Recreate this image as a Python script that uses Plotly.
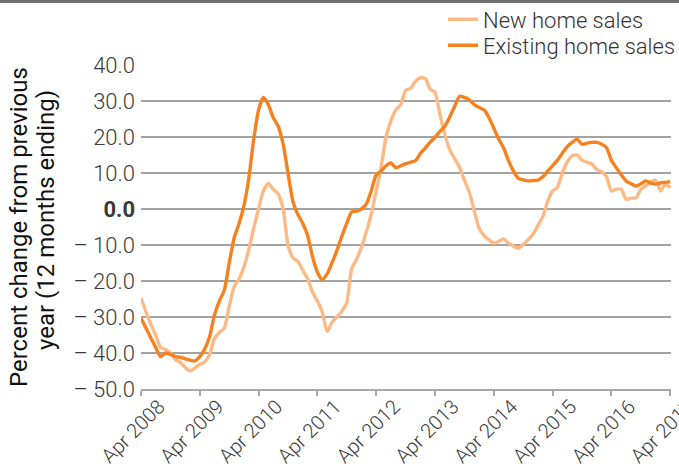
import pandas as pd
import plotly.graph_objects as go

# monthly, Apr 2008 .. Apr 2017
months = pd.date_range("2008-04-01", "2017-04-01", freq="MS")

new_home_sales = [
    -24.7, -28.5, -32, -35, -38.5, -39, -40, -41.8, -42.6, -44, -45, -44.2,
    -43.2, -42.5, -40.5, -36, -34.3, -33, -27, -21.5, -19.5, -16, -11, -5.5,
    0, 5, 7.1, 5.5, 4.2, 0, -10, -13.6, -14.5, -17, -19.5, -23,
    -25.5, -28.5, -34, -31.5, -30, -28.4, -26, -16.5, -14, -10.5, -6.1, -1.5,
    5, 11.5, 20, 24.5, 27.5, 29, 33, 33.5, 35.5, 36.5, 36.2, 33.3,
    32.4, 26.4, 20.8, 16.5, 14, 11.5, 8, 4.5, -0.5, -5.5, -7.5, -8.5,
    -9.5, -9, -8.3, -9.5, -10.3, -10.9, -9.8, -8.5, -7, -4.5, -2, 2,
    5, 6, 10, 13, 14.8, 15, 13.6, 13, 12.5, 11, 10.3, 9,
    5, 5.5, 5.5, 2.7, 3, 3.1, 5.5, 6.5, 7.5, 8, 5, 6.9,
    5.9,
]

existing_home_sales = [
    -30.3, -33, -35.8, -38.5, -41, -40, -40.4, -41, -41.2, -41.6, -42, -42.2,
    -41, -39, -35.5, -29.5, -25.5, -22.5, -15, -8, -4, 1, 9, 19,
    27.5, 31, 29, 25.4, 23, 18, 10, 2, -1.5, -4, -7.5, -13,
    -17.5, -19.6, -18, -15, -11.5, -7.5, -4, -0.8, -0.6, 0, 1.5, 5,
    9.5, 10.5, 12, 12.8, 11.5, 12, 12.6, 13, 13.4, 15.5, 17, 18.5,
    19.9, 21.5, 23, 25.5, 28.5, 31.3, 31, 30.3, 29, 28.2, 27.5, 25.5,
    22.5, 19.5, 17, 13.5, 10.6, 8.5, 8.1, 7.8, 7.9, 8, 9, 10.5,
    12, 13.5, 15.5, 17.3, 18.5, 19.4, 18, 18.3, 18.5, 18.5, 18, 17.1,
    13.5, 11.5, 9.5, 7.8, 7, 6.4, 7, 7.8, 7.2, 6.9, 7.3, 7.4,
    7.6,
]

y_ticks = [40, 30, 20, 10, 0, -10, -20, -30, -40, -50]
y_tick_labels = ["40.0", "30.0", "20.0", "10.0", "<b>0.0</b>", "– 10.0",
                 "– 20.0", "– 30.0", "– 40.0", "– 50.0"]
x_ticks = pd.date_range("2008-04-01", "2017-04-01", freq="12MS")
y_title_lines = ["Percent change from previous", "year (12 months ending)"]

FONT = "Roboto"
PLOT_L, PLOT_W = 141, 679 - 141 - 8
PLOT_H = 473 - 65 - 84


def paper_x(px):
    return (px - PLOT_L) / PLOT_W


def paper_y(px):
    # pixel row (from top of figure) -> paper coordinate
    return (473 - 84 - px) / PLOT_H


fig = go.Figure()
fig.add_trace(go.Scatter(
    x=months, y=new_home_sales, name="New home sales", mode="lines",
    line=dict(color="#fdb984", width=3.4, shape="spline", smoothing=0.6),
    legend="legend",
))
fig.add_trace(go.Scatter(
    x=months, y=existing_home_sales, name="Existing home sales", mode="lines",
    line=dict(color="#f5821f", width=3.4, shape="spline", smoothing=0.6),
    legend="legend2",
))

legend_style = dict(
    xanchor="left", yanchor="top", bgcolor="rgba(0,0,0,0)",
    font=dict(family=FONT, size=22, color="#333333", weight=300),
    itemwidth=30,
)

fig.update_layout(
    width=679, height=473,
    margin=dict(l=141, r=8, t=65, b=84, autoexpand=False),
    paper_bgcolor="white", plot_bgcolor="white",
    font=dict(family=FONT, size=20, color="#3a3a3a", weight=300),
    showlegend=True,
    legend=dict(x=paper_x(443), y=paper_y(-1.5), **legend_style),
    legend2=dict(x=paper_x(443), y=paper_y(24.5), **legend_style),
    shapes=[dict(
        type="rect", xref="paper", yref="paper",
        x0=-0.3, x1=1.05, y0=paper_y(3), y1=paper_y(-3),
        fillcolor="#707070", line=dict(width=0), layer="above",
    )],
    annotations=[
        dict(text=y_title_lines[0], xref="paper", yref="paper",
             x=paper_x(19), y=paper_y(227), textangle=-90,
             showarrow=False, xanchor="center", yanchor="middle",
             font=dict(family=FONT, size=24, color="#111111", weight=400)),
        dict(text=y_title_lines[1], xref="paper", yref="paper",
             x=paper_x(46), y=paper_y(220), textangle=-90,
             showarrow=False, xanchor="center", yanchor="middle",
             font=dict(family=FONT, size=24, color="#111111", weight=400)),
    ],
)

fig.update_xaxes(
    range=["2008-04-01", "2017-04-06"], automargin=False,
    tickvals=x_ticks, tickformat="%b %Y", tickangle=-45,
    showgrid=False, showline=True, linecolor="#a8a8a8", linewidth=2,
    ticks="outside", ticklen=5, tickcolor="#a8a8a8", tickwidth=1.5,
    tickfont=dict(family=FONT, size=20, color="#3a3a3a", weight=300),
    ticklabelshift=18, ticklabelstandoff=-9, ticklabeloverflow="allow",
    zeroline=False,
)
fig.update_yaxes(
    range=[-50, 40], automargin=False,
    tickvals=y_ticks, ticktext=y_tick_labels,
    showgrid=True, gridcolor="#a3a3a3", gridwidth=1.5,
    ticks="", ticklabelstandoff=5,
    showline=False, zeroline=False,
    tickfont=dict(family=FONT, size=22, color="#3a3a3a", weight=300),
)

# drop the default 8px body margin so the figure sits at the page corner
fig.write_html(
    "out.html",
    config={"displayModeBar": False},
    post_script="document.body.style.margin='0';",
)
